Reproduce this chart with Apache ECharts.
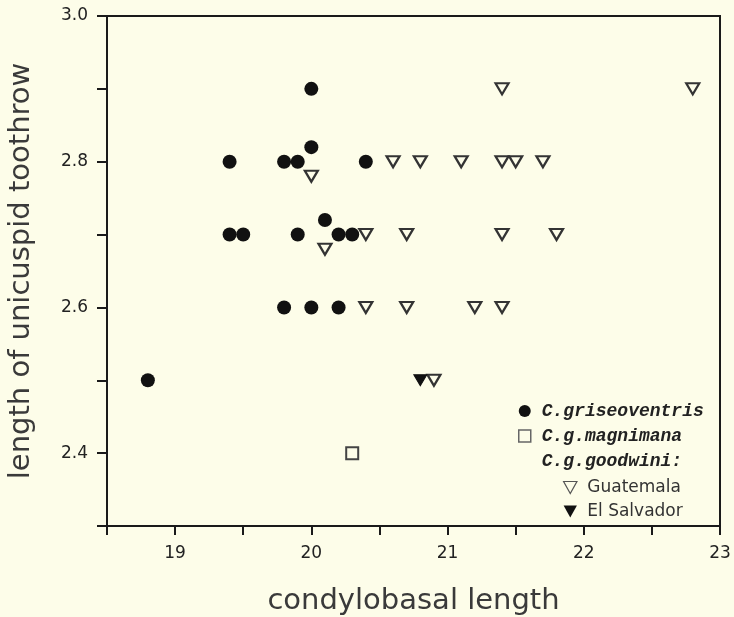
<!DOCTYPE html>
<html>
<head>
<meta charset="utf-8">
<script src="https://cdn.jsdelivr.net/npm/echarts@6/dist/echarts.min.js"></script>
<style>
html,body{margin:0;padding:0;background:#fdfde9;}
#chart{width:734px;height:617px;}
</style>
</head>
<body>
<div id="chart"></div>
<script>
// Data (condylobasal length, length of unicuspid toothrow)
var griseoventris = [
  [18.8, 2.5],
  [19.4, 2.8], [19.8, 2.8], [19.9, 2.8], [20.4, 2.8],
  [20.0, 2.9], [20.0, 2.82],
  [19.4, 2.7], [19.5, 2.7], [19.9, 2.7], [20.2, 2.7], [20.3, 2.7],
  [20.1, 2.72],
  [19.8, 2.6], [20.0, 2.6], [20.2, 2.6]
];
var magnimana = [[20.3, 2.4]];
var guatemala = [
  [21.4, 2.9], [22.8, 2.9],
  [20.6, 2.8], [20.8, 2.8], [21.1, 2.8], [21.4, 2.8], [21.5, 2.8], [21.7, 2.8],
  [20.0, 2.78],
  [20.4, 2.7], [20.7, 2.7], [21.4, 2.7], [21.8, 2.7],
  [20.1, 2.68],
  [20.4, 2.6], [20.7, 2.6], [21.2, 2.6], [21.4, 2.6],
  [20.9, 2.5]
];
var elSalvador = [[20.8, 2.5]];
var xLabels = [19, 20, 21, 22, 23];
var yLabels = [2.4, 2.6, 2.8, 3.0];

var bg = '#fdfde9';
var ink = '#1a1a1a';
var tri = 'path://M0,0 L10,0 L5,9 Z';

var chart = echarts.init(document.getElementById('chart'));
chart.setOption({
  backgroundColor: bg,
  animation: false,
  grid: {left: 107, top: 16, right: 14, bottom: 91, outerBoundsMode: 'none', containLabel: false,
    show: true, borderColor: ink, borderWidth: 2, backgroundColor: 'transparent'},
  xAxis: {
    type: 'value', min: 18.5, max: 23, interval: 0.5,
    name: 'condylobasal length', nameLocation: 'middle', nameGap: 61,
    nameTextStyle: {fontFamily: 'DejaVu Sans', fontSize: 29, color: '#3a3a3a', fontWeight: 'normal'},
    axisLine: {show: true, onZero: false, lineStyle: {color: ink, width: 2}},
    axisTick: {show: true, inside: false, length: 9, lineStyle: {color: ink, width: 2}},
    axisLabel: {margin: 19, fontFamily: 'DejaVu Sans', fontSize: 17, color: '#222',
      formatter: function (v) { return xLabels.indexOf(Math.round(v * 10) / 10) >= 0 ? String(Math.round(v)) : ''; }},
    splitLine: {show: false}
  },
  yAxis: {
    type: 'value', min: 2.3, max: 3.0, interval: 0.1,
    name: 'length of unicuspid toothrow', nameLocation: 'middle', nameGap: 71,
    nameTextStyle: {fontFamily: 'DejaVu Sans', fontSize: 29, color: '#3a3a3a', fontWeight: 'normal'},
    axisLine: {show: true, onZero: false, lineStyle: {color: ink, width: 2}},
    axisTick: {show: true, inside: false, length: 10, lineStyle: {color: ink, width: 2}},
    axisLabel: {margin: 19, fontFamily: 'DejaVu Sans', fontSize: 17, color: '#222',
      formatter: function (v) { var r = Math.round(v * 10) / 10; return yLabels.indexOf(r) >= 0 ? r.toFixed(1) : ''; }},
    splitLine: {show: false}
  },
  legend: [
    {
      orient: 'vertical', left: 513, top: 397, itemGap: 7, itemWidth: 12, itemHeight: 12,
      textStyle: {fontFamily: 'Liberation Mono', fontStyle: 'italic', fontWeight: 'bold', fontSize: 18, color: '#222',
        padding: [0, 0, 0, 6]},
      data: [
        {name: 'C.griseoventris', icon: 'circle', itemStyle: {color: '#111', borderWidth: 0}},
        {name: 'C.g.magnimana', icon: 'rect', itemStyle: {color: bg, borderColor: '#666', borderWidth: 1.5}},
        {name: 'C.g.goodwini:', icon: 'rect', itemStyle: {opacity: 0}}
      ]
    },
    {
      orient: 'vertical', left: 558, top: 474, itemGap: 7, itemWidth: 14, itemHeight: 12,
      textStyle: {fontFamily: 'DejaVu Sans', fontSize: 17, color: '#333', padding: [0, 0, 0, 5]},
      data: [
        {name: 'Guatemala', icon: tri, itemStyle: {color: bg, borderColor: '#555', borderWidth: 1.2}},
        {name: 'El Salvador', icon: tri, itemStyle: {color: '#111', borderWidth: 0}}
      ]
    }
  ],
  series: [
    {name: 'C.griseoventris', type: 'scatter', data: griseoventris, symbol: 'circle', symbolSize: 14,
      itemStyle: {color: '#111', opacity: 1}},
    {name: 'C.g.magnimana', type: 'scatter', data: magnimana, symbol: 'rect', symbolSize: 12,
      itemStyle: {color: bg, borderColor: '#444', borderWidth: 2, opacity: 1}},
    {name: 'C.g.goodwini:', type: 'scatter', data: []},
    {name: 'Guatemala', type: 'scatter', data: guatemala, symbol: tri, symbolSize: [13, 11],
      itemStyle: {color: bg, borderColor: '#333', borderWidth: 2.2, opacity: 1}},
    {name: 'El Salvador', type: 'scatter', data: elSalvador, symbol: tri, symbolSize: [13, 11],
      itemStyle: {color: '#111', borderColor: '#111', borderWidth: 1, opacity: 1}}
  ]
});
</script>
</body>
</html>
